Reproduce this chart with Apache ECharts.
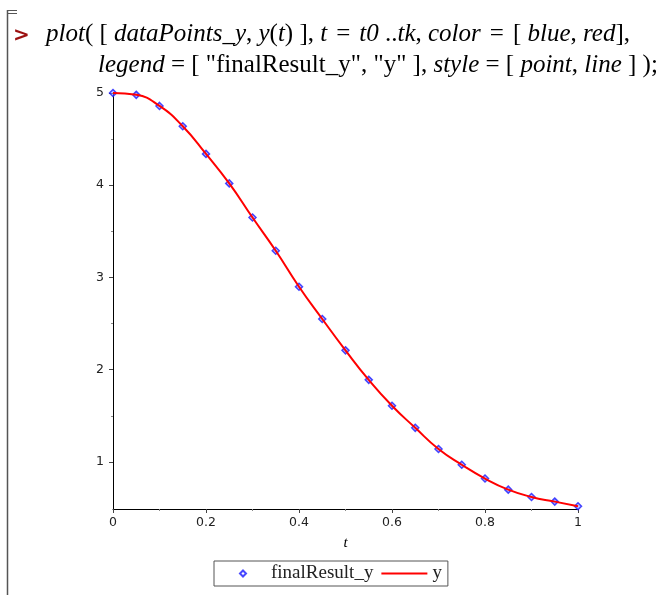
<!DOCTYPE html>
<html>
<head>
<meta charset="utf-8">
<script src="https://cdn.jsdelivr.net/npm/echarts@6/dist/echarts.min.js"></script>
<style>
  html, body { margin: 0; padding: 0; background: #ffffff; }
  #chart { width: 667px; height: 595px; }
</style>
</head>
<body>
<div id="chart"></div>
<script>
// Sample times t = t0 .. tk and the computed y values at those times
const tValues = [0, 0.05, 0.1, 0.15, 0.2, 0.25, 0.3, 0.35, 0.4, 0.45, 0.5,
                 0.55, 0.6, 0.65, 0.7, 0.75, 0.8, 0.85, 0.9, 0.95, 1];
const pointValues = [5.0, 4.98, 4.86, 4.64, 4.34, 4.02, 3.65, 3.29, 2.90, 2.55, 2.21,
                     1.89, 1.61, 1.37, 1.14, 0.97, 0.82, 0.70, 0.62, 0.57, 0.52];
// Exact solution y(t), evaluated at the same times
const curveValues = [5.0, 4.98, 4.86, 4.64, 4.34, 4.02, 3.65, 3.29, 2.90, 2.55, 2.21,
                     1.89, 1.61, 1.37, 1.14, 0.97, 0.82, 0.70, 0.62, 0.57, 0.52];

const xTickLabels = [0, 0.2, 0.4, 0.6, 0.8, 1];
const yTickLabels = [1, 2, 3, 4, 5];
const yMinorTicks = [1.5, 2.5, 3.5, 4.5];
const seriesNames = ['finalResult_y', 'y'];

const pointData = tValues.map((t, i) => [t, pointValues[i]]);
const curveData = tValues.map((t, i) => [t, curveValues[i]]);

const serif = '"Liberation Serif", "DejaVu Serif", serif';
const sans = '"DejaVu Sans", sans-serif';

const chart = echarts.init(document.getElementById('chart'), null, { renderer: 'canvas' });

const cmdRich = {
  i: { fontFamily: serif, fontStyle: 'italic', fontSize: 25, fill: '#000' },
  n: { fontFamily: serif, fontSize: 25, fill: '#000' },
  s: { fontFamily: serif, fontSize: 25, fill: '#000', width: 9 }
};

// Legend glyphs: the bounding moveTo points keep each icon the size of the legend box
const legendDiamond = 'path://M0,0M46,7M23,0.5L26,3.5L23,6.5L20,3.5Z';
const legendLine = 'path://M0,0M46,7M0,2.4L46,2.4L46,4.6L0,4.6Z';

const option = {
  backgroundColor: '#ffffff',
  animation: false,
  grid: { left: 113, right: 89, top: 93, bottom: 86, containLabel: false },
  xAxis: {
    type: 'value',
    min: 0,
    max: 1,
    interval: 0.2,
    name: 't',
    nameLocation: 'middle',
    nameGap: 27,
    nameTextStyle: { fontFamily: serif, fontStyle: 'italic', fontSize: 15, color: '#000' },
    axisLine: { show: true, onZero: false, lineStyle: { color: '#000', width: 1 } },
    axisTick: { show: true, length: 4, lineStyle: { color: '#444' } },
    minorTick: { show: true, splitNumber: 2, length: 2, lineStyle: { color: '#888' } },
    axisLabel: {
      margin: 7, fontFamily: sans, fontSize: 12.5, color: '#222',
      customValues: xTickLabels,
      formatter: v => String(v)
    },
    splitLine: { show: false }
  },
  yAxis: [{
    type: 'value',
    min: 0.49,
    max: 5,
    axisLine: { show: true, onZero: false, lineStyle: { color: '#000', width: 1 } },
    axisTick: { show: true, length: 4, customValues: yTickLabels, lineStyle: { color: '#444' } },
    axisLabel: {
      margin: 9, fontFamily: sans, fontSize: 12.5, color: '#222',
      customValues: yTickLabels,
      formatter: v => String(v)
    },
    splitLine: { show: false }
  }, {
    // minor ticks between the labelled values
    type: 'value',
    min: 0.49,
    max: 5,
    position: 'left',
    axisLine: { show: false },
    axisTick: { show: true, length: 2, customValues: yMinorTicks, lineStyle: { color: '#888' } },
    axisLabel: { show: false },
    splitLine: { show: false }
  }],
  legend: {
    left: 214,
    top: 561,
    orient: 'horizontal',
    padding: [3, 6, 3, 5],
    itemGap: 8,
    itemWidth: 46,
    itemHeight: 7,
    symbolKeepAspect: true,
    borderColor: '#555',
    borderWidth: 1,
    borderRadius: 0,
    textStyle: { fontFamily: serif, fontSize: 19, color: '#222' },
    data: [
      {
        name: seriesNames[0],
        icon: legendDiamond,
        itemStyle: { color: '#ffffff', borderColor: '#1a1aff', borderWidth: 2 }
      },
      {
        name: seriesNames[1],
        icon: legendLine,
        itemStyle: { color: '#ff0000', borderWidth: 0 }
      }
    ]
  },
  series: [{
    name: seriesNames[0],
    type: 'scatter',
    data: pointData,
    symbol: 'diamond',
    symbolSize: 7,
    itemStyle: { color: 'rgba(150,150,255,0.7)', borderColor: '#1a1aff', borderWidth: 1.5 },
    z: 2
  }, {
    name: seriesNames[1],
    type: 'line',
    data: curveData,
    smooth: 0.5,
    showSymbol: false,
    symbol: 'none',
    lineStyle: { color: '#ff0000', width: 2 },
    itemStyle: { color: '#ff0000' },
    z: 3
  }],
  graphic: [
    // worksheet execution-group bracket
    { type: 'line', shape: { x1: 7.5, y1: 10, x2: 7.5, y2: 595 }, style: { stroke: '#555', lineWidth: 1.5 } },
    { type: 'line', shape: { x1: 7, y1: 10.5, x2: 17, y2: 10.5 }, style: { stroke: '#555', lineWidth: 1 } },
    { type: 'line', shape: { x1: 7, y1: 13.5, x2: 17, y2: 13.5 }, style: { stroke: '#555', lineWidth: 1 } },
    // input prompt
    {
      type: 'text', left: 13, top: 26,
      style: { text: '>', fontFamily: sans, fontWeight: 'bold', fontSize: 20, fill: '#9b1010' }
    },
    // input command, first line
    {
      type: 'text', left: 46, top: 22,
      style: {
        text: '{i|plot}{n|( [ }{i|dataPoints_y}{n|, }{i|y}{n|(}{i|t}{n|) ], }{i|t}{s| }{n|=}{s| }{i|t0}{n| ..}{i|tk}{n|, }{i|color}{s| }{n|=}{s| }{n|[ }{i|blue}{n|, }{i|red}{n|],}',
        rich: cmdRich
      }
    },
    // input command, second line
    {
      type: 'text', left: 98, top: 53,
      style: {
        text: '{i|legend}{n| = [ "finalResult_y", "y" ], }{i|style}{n| = [ }{i|point}{n|, }{i|line}{n| ] );}',
        rich: cmdRich
      }
    }
  ]
};

chart.setOption(option);
</script>
</body>
</html>
